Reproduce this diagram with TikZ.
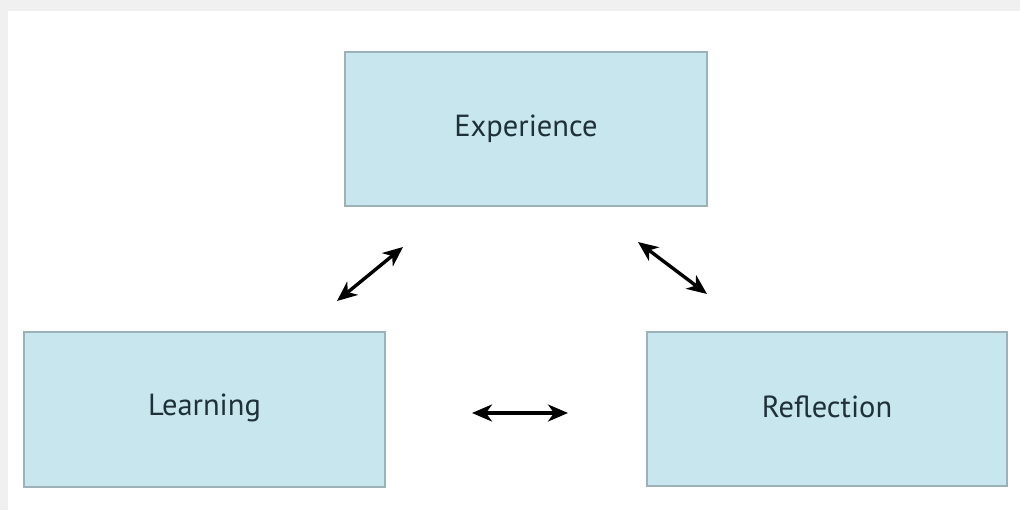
\documentclass[tikz,border=0pt]{standalone}
\usepackage{fontspec}
\setmainfont{PT Sans}
\usetikzlibrary{arrows.meta}
\definecolor{boxfill}{HTML}{C8E6EE}
\definecolor{boxline}{HTML}{9DB2B8}
\definecolor{boxtext}{HTML}{1E3038}
\definecolor{frame}{HTML}{F0F0F0}
\tikzset{
  stage/.style={draw=boxline, line width=1.3pt, fill=boxfill, text=boxtext,
    font=\fontsize{30.5}{36}\selectfont, inner sep=0pt},
  link/.style={line width=3.4pt, black,
    {Stealth[length=20pt,width=17pt,inset=6pt]}-{Stealth[length=20pt,width=17pt,inset=6pt]}}
}
\begin{document}
\begin{tikzpicture}[x=1pt,y=-1pt]
\fill[frame] (0,0) rectangle (1020,510);
\fill[white] (8,11) rectangle (1020,510);
\useasboundingbox (0,0) rectangle (1020,510);
\node[stage, minimum width=362pt, minimum height=154pt] (exp) at (526,129) {\raisebox{7pt}{Experience}};
\node[stage, minimum width=361pt, minimum height=155pt] (lea) at (204.5,409.5) {\raisebox{10pt}{Learning}};
\node[stage, minimum width=360pt, minimum height=154pt] (ref) at (827,409) {\raisebox{4pt}{Reflection}};
\coordinate (a1) at (337,301);
\coordinate (a2) at (403,247);
\coordinate (b1) at (638,242);
\coordinate (b2) at (707,294);
\coordinate (c1) at (472,413);
\coordinate (c2) at (568,413);
\draw[link] (a1) -- (a2);
\draw[link] (b1) -- (b2);
\draw[link] (c1) -- (c2);
\end{tikzpicture}
\end{document}
